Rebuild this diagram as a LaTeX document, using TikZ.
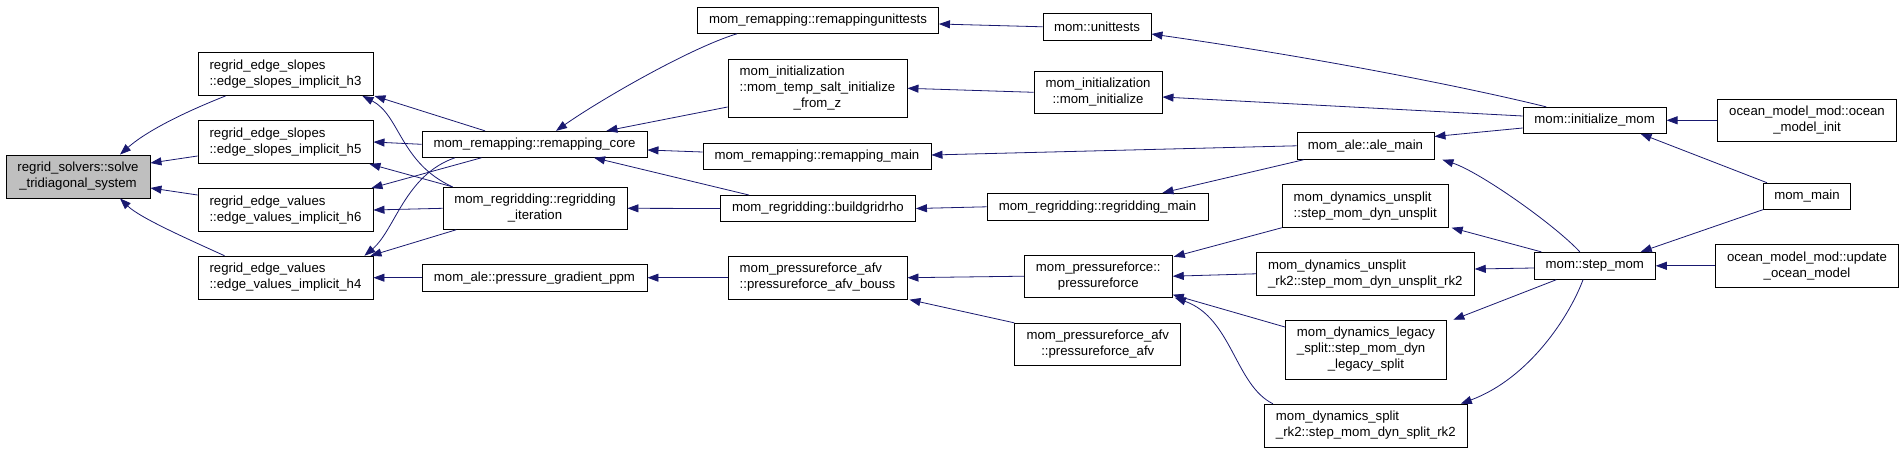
\documentclass[tikz,border=0pt]{standalone}
\usepackage{fontspec}
\setmainfont{Liberation Sans}
\usetikzlibrary{arrows.meta}
\definecolor{edgeblue}{HTML}{191970}
\definecolor{solvegray}{HTML}{BFBFBF}
\newcommand{\boxL}[1]{\begin{tabular}{@{}l@{}}#1\end{tabular}}
\newcommand{\boxC}[1]{\begin{tabular}{@{}c@{}}#1\end{tabular}}
\tikzset{
  fnbox/.style={draw=black, line width=0.9pt, fill=white, inner sep=0pt,
    font=\fontsize{13.2}{16}\selectfont},
  calledge/.style={draw=edgeblue, line width=0.8pt,
    -{Triangle[length=11pt,width=8pt]}, color=edgeblue},
}
\begin{document}
\begin{tikzpicture}[x=1pt,y=1pt]
\fill[white] (0,0) rectangle (1904,-452);
\useasboundingbox (0,0) rectangle (1904,-452);

% column 0
\node[fnbox, fill=solvegray, minimum width=144pt, minimum height=43pt] (solve) at (78,-176.5) {\boxC{regrid\_solvers::solve\\\_tridiagonal\_system}};
% column 1
\node[fnbox, minimum width=175pt, minimum height=43pt] (h3) at (285.5,-74) {\boxL{regrid\_edge\_slopes\\::edge\_slopes\_implicit\_h3}};
\node[fnbox, minimum width=175pt, minimum height=43pt] (h5) at (285.5,-142) {\boxL{regrid\_edge\_slopes\\::edge\_slopes\_implicit\_h5}};
\node[fnbox, minimum width=175pt, minimum height=43pt] (h6) at (285.5,-210) {\boxL{regrid\_edge\_values\\::edge\_values\_implicit\_h6}};
\node[fnbox, minimum width=175pt, minimum height=43pt] (h4) at (285.5,-277.7) {\boxL{regrid\_edge\_values\\::edge\_values\_implicit\_h4}};
% column 2
\node[fnbox, minimum width=225pt, minimum height=26pt] (rcore) at (534.5,-144.3) {mom\_remapping::remapping\_core};
\node[fnbox, minimum width=184pt, minimum height=42pt] (riter) at (535,-208.3) {\boxC{mom\_regridding::regridding\\\_iteration}};
\node[fnbox, minimum width=225pt, minimum height=27pt] (ppm) at (534.5,-277.7) {mom\_ale::pressure\_gradient\_ppm};
% column 3
\node[fnbox, minimum width=241pt, minimum height=26pt] (runit) at (818,-20.3) {mom\_remapping::remappingunittests};
\node[fnbox, minimum width=179pt, minimum height=58pt] (tsz) at (817.5,-88.3) {\begin{tabular}{@{}l@{}}mom\_initialization\\::mom\_temp\_salt\_initialize\\\multicolumn{1}{@{}c@{}}{\_from\_z}\end{tabular}};
\node[fnbox, minimum width=228pt, minimum height=26pt] (rmain) at (817,-156.3) {mom\_remapping::remapping\_main};
\node[fnbox, minimum width=195pt, minimum height=26pt] (bgr) at (818,-208.5) {mom\_regridding::buildgridrho};
\node[fnbox, minimum width=179pt, minimum height=43pt] (bouss) at (817.5,-277.7) {\boxL{mom\_pressureforce\_afv\\::pressureforce\_afv\_bouss}};
% column 4
\node[fnbox, minimum width=108pt, minimum height=27pt] (unit) at (1097,-26.8) {mom::unittests};
\node[fnbox, minimum width=128pt, minimum height=42pt] (minit) at (1098,-92.3) {\boxC{mom\_initialization\\::mom\_initialize}};
\node[fnbox, minimum width=221pt, minimum height=27pt] (regmain) at (1097.5,-206.8) {mom\_regridding::regridding\_main};
\node[fnbox, minimum width=148pt, minimum height=42pt] (pf) at (1098.3,-276.2) {\boxC{mom\_pressureforce::\\pressureforce}};
\node[fnbox, minimum width=166pt, minimum height=42pt] (afv) at (1097.8,-344.3) {\boxC{mom\_pressureforce\_afv\\::pressureforce\_afv}};
% column 5
\node[fnbox, minimum width=137pt, minimum height=27pt] (ale) at (1365.5,-145.8) {mom\_ale::ale\_main};
\node[fnbox, minimum width=166pt, minimum height=43pt] (dun) at (1365.2,-205.8) {\boxL{mom\_dynamics\_unsplit\\::step\_mom\_dyn\_unsplit}};
\node[fnbox, minimum width=218pt, minimum height=43pt] (dunrk) at (1365.3,-273.8) {\boxL{mom\_dynamics\_unsplit\\\_rk2::step\_mom\_dyn\_unsplit\_rk2}};
\node[fnbox, minimum width=161pt, minimum height=59pt] (leg) at (1365.9,-349.7) {\begin{tabular}{@{}l@{}}mom\_dynamics\_legacy\\\_split::step\_mom\_dyn\\\multicolumn{1}{@{}c@{}}{\_legacy\_split}\end{tabular}};
\node[fnbox, minimum width=203pt, minimum height=43pt] (srk) at (1365.8,-425.7) {\boxL{mom\_dynamics\_split\\\_rk2::step\_mom\_dyn\_split\_rk2}};
% column 6
\node[fnbox, minimum width=143pt, minimum height=26pt] (imom) at (1594.6,-120.3) {mom::initialize\_mom};
\node[fnbox, minimum width=121pt, minimum height=27pt] (step) at (1594.8,-265.8) {mom::step\_mom};
% column 7
\node[fnbox, minimum width=179pt, minimum height=42pt] (omi) at (1807,-120.3) {\boxC{ocean\_model\_mod::ocean\\\_model\_init}};
\node[fnbox, minimum width=87pt, minimum height=26pt] (mmain) at (1807,-196.2) {mom\_main};
\node[fnbox, minimum width=183pt, minimum height=43pt] (uom) at (1807,-265.8) {\boxC{ocean\_model\_mod::update\\\_ocean\_model}};

% edges into solve
\draw[calledge] ([xshift=28pt]h3.south west) .. controls (195,-108) and (150,-128) .. ([xshift=42pt]solve.north);
\draw[calledge] ([yshift=-14pt]h5.west) -- ([yshift=13.5pt]solve.east);
\draw[calledge] ([yshift=15pt]h6.west) -- ([yshift=-11.5pt]solve.east);
\draw[calledge] ([xshift=27pt]h4.north west) .. controls (190,-240) and (140,-218) .. ([xshift=42pt]solve.south);
% edges into column 1
\draw[calledge] ([xshift=-49.5pt]rcore.north) -- ([xshift=1pt]h3.south east);
\draw[calledge] ([xshift=10pt]riter.north west) .. controls (400,-163) and (400,-115) .. ([xshift=-11pt]h3.south east);
\draw[calledge] (rcore.west) -- (h5.east);
\draw[calledge] ([xshift=10pt]riter.north west) -- ([xshift=-4pt]h5.south east);
\draw[calledge] ([xshift=-53pt]rcore.south) -- ([xshift=-2pt]h6.north east);
\draw[calledge] ([xshift=-79.5pt]rcore.south) .. controls (405,-175) and (395,-230) .. ([xshift=-9pt]h4.north east);
\draw[calledge] (riter.west) -- (h6.east);
\draw[calledge] ([xshift=13.7pt]riter.south west) -- ([xshift=-3pt]h4.north east);
\draw[calledge] (ppm.west) -- (h4.east);
% edges into column 2
\draw[calledge] ([xshift=40pt]runit.south west) .. controls (690,-48) and (600,-100) .. ([xshift=21.5pt]rcore.north);
\draw[calledge] ([yshift=-18.7pt]tsz.west) -- ([xshift=-41pt]rcore.north east);
\draw[calledge] ([yshift=4.3pt]rmain.west) -- ([yshift=-5.7pt]rcore.east);
\draw[calledge] ([xshift=29pt]bgr.north west) -- ([xshift=-53.4pt]rcore.south east);
\draw[calledge] (bgr.west) -- (riter.east);
\draw[calledge] (bouss.west) -- (ppm.east);
% edges into column 3
\draw[calledge] (unit.west) -- ([yshift=-3.7pt]runit.east);
\draw[calledge] (minit.west) -- (tsz.east);
\draw[calledge] (ale.west) -- ([yshift=1.3pt]rmain.east);
\draw[calledge] (regmain.west) -- (bgr.east);
\draw[calledge] (pf.west) -- (bouss.east);
\draw[calledge] (afv.north west) -- ([xshift=2pt]bouss.south east);
% edges into column 4
\draw[calledge] ([xshift=23.5pt]imom.north west) .. controls (1470,-88) and (1320,-58) .. ([yshift=-7.2pt]unit.east);
\draw[calledge] ([yshift=4.3pt]imom.west) -- ([yshift=-4.7pt]minit.east);
\draw[calledge] ([xshift=7pt]ale.south west) -- ([xshift=-46pt]regmain.north east);
\draw[calledge] (dun.south west) -- ([xshift=1pt,yshift=-2pt]pf.north east);
\draw[calledge] (dunrk.west) -- (pf.east);
\draw[calledge] ([yshift=22.7pt]leg.west) -- ([yshift=-18.5pt]pf.east);
\draw[calledge] ([xshift=9pt]srk.north west) .. controls (1235,-385) and (1232,-318) .. ([xshift=2pt]pf.south east);
% edges into column 5
\draw[calledge] ([yshift=-7.7pt]imom.west) -- ([yshift=9.3pt]ale.east);
\draw[calledge] ([xshift=-15pt]step.north) .. controls (1555,-225) and (1480,-172) .. ([xshift=8pt]ale.south east);
\draw[calledge] ([xshift=7.4pt]step.north west) -- ([xshift=3pt]dun.south east);
\draw[calledge] ([yshift=-2.2pt]step.west) -- ([yshift=4.8pt]dunrk.east);
\draw[calledge] ([xshift=22.4pt]step.south west) -- ([xshift=6.5pt]leg.north east);
\draw[calledge] ([xshift=-11.8pt]step.south) .. controls (1570,-315) and (1530,-378) .. ([xshift=-7pt]srk.north east);
% edges into column 6
\draw[calledge] ([xshift=4pt]mmain.north west) -- ([xshift=-26pt]imom.south east);
\draw[calledge] (mmain.south west) -- ([xshift=-15pt]step.north east);
\draw[calledge] (omi.west) -- (imom.east);
\draw[calledge] (uom.west) -- (step.east);
\end{tikzpicture}
\end{document}
